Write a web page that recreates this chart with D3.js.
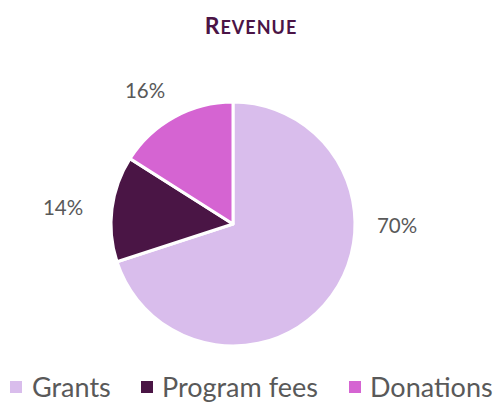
<!DOCTYPE html>
<html>
<head>
<meta charset="utf-8">
<script src="https://cdn.jsdelivr.net/npm/d3@7"></script>
<style>
  body { margin: 0; background: #fff; }
  text { font-family: Lato, "Open Sans", sans-serif; }
</style>
</head>
<body>
<svg id="chart" width="494" height="403"></svg>
<script>
const categories = ["Grants", "Program fees", "Donations"];
const values = [70, 14, 16];
const colors = ["#D9BDEC", "#4A1545", "#D564D2"];
const labelPos = [[397, 233], [63, 215], [145, 98]];
const legendX = [[10, 32], [141, 162], [349, 370]];

const svg = d3.select("#chart");
const cx = 233, cy = 224, r = 122;

// Title, drawn as small caps by hand
const title = svg.append("text")
  .attr("x", 251).attr("y", 34)
  .attr("text-anchor", "middle")
  .attr("fill", "#4B1446")
  .attr("font-weight", "bold")
  .attr("letter-spacing", 1);
title.append("tspan").attr("font-size", 23).text("R");
title.append("tspan").attr("font-size", 18).text("EVENUE");

const pie = d3.pie().sort(null).value(d => d);
const arc = d3.arc().innerRadius(0).outerRadius(r);
const arcs = pie(values);

const g = svg.append("g").attr("transform", `translate(${cx},${cy})`);
g.selectAll("path")
  .data(arcs)
  .enter().append("path")
  .attr("d", arc)
  .attr("fill", (d, i) => colors[i])
  .attr("stroke", "#fff")
  .attr("stroke-width", 3)
  .attr("stroke-linejoin", "round");

// Percentage labels
svg.selectAll(".pct")
  .data(arcs)
  .enter().append("text")
  .attr("class", "pct")
  .attr("x", (d, i) => labelPos[i][0])
  .attr("y", (d, i) => labelPos[i][1])
  .attr("text-anchor", "middle")
  .attr("fill", "#595959")
  .attr("font-size", 20.5)
  .text(d => d.data + "%");

// Legend
const leg = svg.selectAll(".leg")
  .data(categories)
  .enter().append("g")
  .attr("class", "leg");
leg.append("rect")
  .attr("x", (d, i) => legendX[i][0])
  .attr("y", 381)
  .attr("width", 12).attr("height", 12)
  .attr("fill", (d, i) => colors[i]);
leg.append("text")
  .attr("x", (d, i) => legendX[i][1])
  .attr("y", 397)
  .attr("fill", "#595959")
  .attr("font-size", 27)
  .text(d => d);
</script>
</body>
</html>
